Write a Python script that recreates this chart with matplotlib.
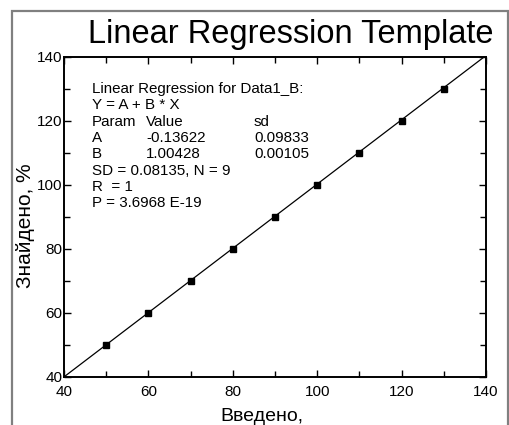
import numpy as np
import matplotlib
matplotlib.use('Agg')
import matplotlib.pyplot as plt
from matplotlib.patches import Rectangle
from matplotlib.ticker import MultipleLocator

plt.rcParams['font.family'] = ['Liberation Sans', 'DejaVu Sans']

# data
introduced = [50, 60, 70, 80, 90, 100, 110, 120, 130]
found = [50, 60, 70, 80, 90, 100, 110, 120, 130]
fit_a = -0.13622
fit_b = 1.00428

stats_lines = [
    "Linear Regression for Data1_B:",
    "Y = A + B * X",
]
param_rows = [
    ("Param", "Value", "sd"),
    ("A", "-0.13622", "0.09833"),
    ("B", "1.00428", "0.00105"),
]
tail_lines = [
    "SD = 0.08135, N = 9",
    "R  = 1",
    "P = 3.6968 E-19",
]

W, H = 510, 425
fig = plt.figure(figsize=(W / 100, H / 100), dpi=100)


def fx(px):
    return px / W


def fy(py):
    return 1 - py / H


# grey frame around the graph page
fig.patches.append(Rectangle((fx(12), fy(440)), fx(508) - fx(12), fy(11) - fy(440),
                             transform=fig.transFigure, fill=False,
                             edgecolor='#808080', linewidth=1.6))

ax = fig.add_axes([fx(64), fy(377), fx(486) - fx(64), fy(57) - fy(377)])

xs = np.array([40, 140])
ax.plot(xs, fit_a + fit_b * xs, color='black', linewidth=0.9)
ax.plot(introduced, found, linestyle='none', marker='s', markersize=4.5,
        color='black')

ax.set_xlim(40, 140)
ax.set_ylim(40, 140)
ax.xaxis.set_major_locator(MultipleLocator(20))
ax.xaxis.set_minor_locator(MultipleLocator(10))
ax.yaxis.set_major_locator(MultipleLocator(20))
ax.yaxis.set_minor_locator(MultipleLocator(10))
ax.tick_params(which='both', direction='in', top=True, right=True,
               labelsize=11, width=1.0)
ax.tick_params(which='major', length=5)
ax.tick_params(axis='y', which='major', pad=1)
ax.tick_params(axis='x', which='major', pad=5.5)
ax.tick_params(which='minor', length=4)
for s in ax.spines.values():
    s.set_linewidth(1.4)

fig.text(fx(25.5), fy(226), 'Знайдено, %', fontsize=15, rotation=90,
         ha='center', va='center')

fig.text(fx(262), fy(421), 'Введено,', fontsize=14, ha='center', va='baseline')

fig.text(fx(88), fy(43), 'Linear Regression Template', fontsize=23.5,
         ha='left', va='baseline')

# statistics box
fs = 10.9
base = 93
step = 16.3
line = 0
for t in stats_lines:
    fig.text(fx(92), fy(base + step * line), t, fontsize=fs, va='baseline')
    line += 1
for p, v, sd in param_rows:
    y = fy(base + step * line)
    fig.text(fx(92), y, p, fontsize=fs, va='baseline')
    fig.text(fx(146), y, v, fontsize=fs, va='baseline')
    fig.text(fx(254), y, sd, fontsize=fs, va='baseline')
    line += 1
for t in tail_lines:
    fig.text(fx(92), fy(base + step * line), t, fontsize=fs, va='baseline')
    line += 1

fig.savefig('out.png', dpi=100)
